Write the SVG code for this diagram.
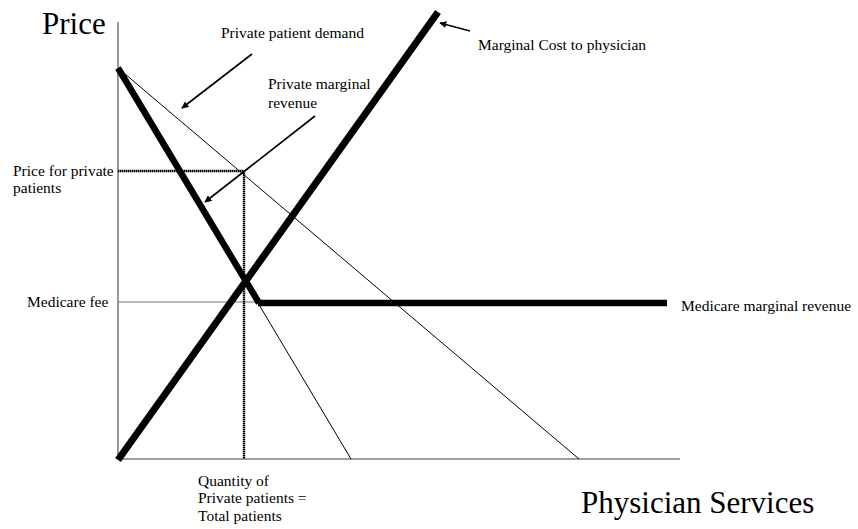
<svg xmlns="http://www.w3.org/2000/svg" width="858" height="529" viewBox="0 0 858 529">
<style>
text{font-family:"Liberation Serif","Times New Roman",serif;fill:#000}
.s{font-size:15.5px}
.b{font-size:31px}
.axis{stroke:#808080;stroke-width:1.6;fill:none}
.thin{stroke:#000;stroke-width:1;fill:none}
.fee{stroke:#707070;stroke-width:1;fill:none}
.thick{stroke:#000;stroke-width:6.5;fill:none;stroke-linecap:butt}
.dot{stroke:#000;stroke-width:2.4;stroke-dasharray:1.5 0.5;fill:none}
.arr{stroke:#000;stroke-width:1.6;fill:none;marker-end:url(#ah)}
</style>
<defs>
<marker id="ah" viewBox="0 0 10 10" refX="9" refY="5" markerWidth="7" markerHeight="7" markerUnits="userSpaceOnUse" orient="auto">
<path d="M0,0 L10,5 L0,10 z" fill="#000"/>
</marker>
</defs>
<rect width="858" height="529" fill="#fff"/>
<g id="axes">
<line class="axis" x1="118" y1="22" x2="118" y2="459"/>
<line class="axis" x1="118" y1="459" x2="680" y2="459"/>
</g>
<g id="connectors">
<line class="fee" x1="118" y1="302" x2="667" y2="302"/>
<line class="thin" x1="118" y1="68" x2="579" y2="459"/>
<line class="thin" x1="258" y1="303" x2="351" y2="459"/>
<line class="dot" x1="118" y1="171" x2="244" y2="171"/>
<line class="dot" x1="244" y1="171" x2="244" y2="459"/>
<polyline class="thick" points="118,68 259,303 258,303 667,303"/>
<line class="thick" style="stroke-width:7" x1="118" y1="460" x2="438" y2="12"/>
<line class="arr" x1="252" y1="54" x2="182" y2="108"/>
<line class="arr" x1="315" y1="116" x2="205" y2="202"/>
<line class="arr" x1="470" y1="31" x2="440" y2="23"/>
</g>
<g id="label-price"><text class="b" x="42" y="34">Price</text></g>
<g id="label-demand"><text class="s" x="221" y="38">Private patient demand</text></g>
<g id="label-pmr"><text class="s" x="268" y="89">Private marginal</text><text class="s" x="268" y="108">revenue</text></g>
<g id="label-mc"><text class="s" x="478" y="50">Marginal Cost to physician</text></g>
<g id="label-ppp"><text class="s" x="13" y="176">Price for private</text><text class="s" x="13" y="193">patients</text></g>
<g id="label-fee"><text class="s" x="27" y="307">Medicare fee</text></g>
<g id="label-mmr"><text class="s" x="681" y="311">Medicare marginal revenue</text></g>
<g id="label-qty"><text class="s" x="198" y="486">Quantity of</text><text class="s" x="198" y="503">Private patients =</text><text class="s" x="198" y="521">Total patients</text></g>
<g id="label-ps"><text class="b" x="581" y="513">Physician Services</text></g>
</svg>
